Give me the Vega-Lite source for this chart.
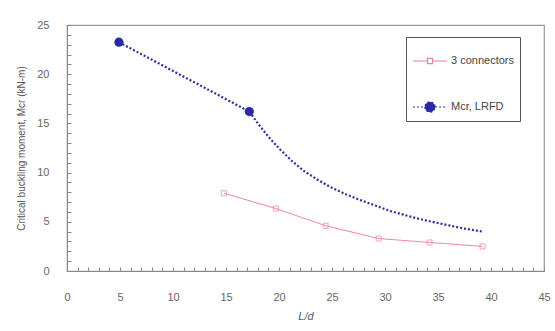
{
  "$schema": "https://vega.github.io/schema/vega-lite/v6.json",
  "autosize": {"type": "none"},
  "width": 477,
  "height": 246,
  "padding": {"left": 67, "top": 25, "right": 11, "bottom": 60},
  "background": "white",
  "config": {
    "view": {"stroke": "#999", "strokeWidth": 1.2},
    "font": "Liberation Sans",
    "axis": {
      "domainColor": "#888",
      "tickColor": "#888",
      "labelColor": "#666",
      "labelFontSize": 11,
      "titleColor": "#555",
      "titleFontWeight": "normal",
      "grid": false
    }
  },
  "data": {
    "values": [
      {"series": "3 connectors", "x": 14.8, "y": 7.9, "marker": true},
      {"series": "3 connectors", "x": 19.7, "y": 6.35, "marker": true},
      {"series": "3 connectors", "x": 24.4, "y": 4.6, "marker": true},
      {"series": "3 connectors", "x": 29.4, "y": 3.3, "marker": true},
      {"series": "3 connectors", "x": 34.2, "y": 2.9, "marker": true},
      {"series": "3 connectors", "x": 39.2, "y": 2.5, "marker": true},
      {"series": "Mcr, LRFD", "x": 4.9, "y": 23.25, "marker": true},
      {"series": "Mcr, LRFD", "x": 17.2, "y": 16.2, "marker": true},
      {"series": "Mcr, LRFD", "x": 18.0, "y": 15.0, "marker": false},
      {"series": "Mcr, LRFD", "x": 19.0, "y": 13.65, "marker": false},
      {"series": "Mcr, LRFD", "x": 20.1, "y": 12.35, "marker": false},
      {"series": "Mcr, LRFD", "x": 21.2, "y": 11.2, "marker": false},
      {"series": "Mcr, LRFD", "x": 22.3, "y": 10.2, "marker": false},
      {"series": "Mcr, LRFD", "x": 23.6, "y": 9.3, "marker": false},
      {"series": "Mcr, LRFD", "x": 24.9, "y": 8.5, "marker": false},
      {"series": "Mcr, LRFD", "x": 26.3, "y": 7.8, "marker": false},
      {"series": "Mcr, LRFD", "x": 27.7, "y": 7.2, "marker": false},
      {"series": "Mcr, LRFD", "x": 30.5, "y": 6.1, "marker": false},
      {"series": "Mcr, LRFD", "x": 33.0, "y": 5.35, "marker": false},
      {"series": "Mcr, LRFD", "x": 35.3, "y": 4.8, "marker": false},
      {"series": "Mcr, LRFD", "x": 37.3, "y": 4.35, "marker": false},
      {"series": "Mcr, LRFD", "x": 39.2, "y": 4.0, "marker": false}
    ]
  },
  "encoding": {
    "x": {
      "field": "x", "type": "quantitative",
      "scale": {"domain": [0, 45], "nice": false},
      "axis": {
        "title": "L/d",
        "titleFontStyle": "italic",
        "titleFontSize": 11,
        "titlePadding": 8,
        "values": [0,1,2,3,4,5,6,7,8,9,10,11,12,13,14,15,16,17,18,19,20,21,22,23,24,25,26,27,28,29,30,31,32,33,34,35,36,37,38,39,40,41,42,43,44,45],
        "labelExpr": "datum.value % 5 === 0 ? datum.label : ''",
        "tickSize": -4,
        "labelPadding": 24,
        "labelFlush": false
      }
    },
    "y": {
      "field": "y", "type": "quantitative",
      "scale": {"domain": [0, 25], "nice": false},
      "axis": {
        "title": "Critical buckling moment, Mcr (kN-m)",
        "titleFontSize": 10,
        "titlePadding": 10,
        "values": [0,1,2,3,4,5,6,7,8,9,10,11,12,13,14,15,16,17,18,19,20,21,22,23,24,25],
        "labelExpr": "datum.value % 5 === 0 ? datum.label : ''",
        "tickSize": -4,
        "labelPadding": 22,
        "labelFlush": false
      }
    }
  },
  "layer": [
    {
      "transform": [{"filter": "datum.series === 'Mcr, LRFD'"}],
      "mark": {"type": "line", "color": "#2e2e9e", "strokeWidth": 2.2, "strokeDash": [2, 2], "interpolate": "linear"}
    },
    {
      "transform": [{"filter": "datum.series === '3 connectors'"}],
      "mark": {"type": "line", "color": "#f08a9c", "strokeWidth": 1}
    },
    {
      "transform": [{"filter": "datum.series === '3 connectors'"}],
      "mark": {"type": "point", "shape": "square", "filled": false, "color": "#ec7f92", "size": 25, "strokeWidth": 1}
    },
    {
      "transform": [{"filter": "datum.series === 'Mcr, LRFD' && datum.marker"}],
      "mark": {"type": "point", "shape": "circle", "filled": true, "color": "#2a2aa8", "opacity": 1, "size": 85}
    },
    {
      "transform": [{"filter": "false"}],
      "mark": {"type": "point", "filled": false, "opacity": 1},
      "encoding": {
        "color": {
          "field": "series", "type": "nominal",
          "scale": {"domain": ["3 connectors", "Mcr, LRFD"], "range": ["#ec7f92", "#2e2e9e"]},
          "legend": {
            "title": null,
            "orient": "none",
            "legendX": 339,
            "legendY": 12,
            "padding": 6,
            "rowPadding": 23,
            "strokeColor": "#555",
            "fillColor": "white",
            "symbolSize": 1156,
            "symbolStrokeWidth": 1.2,
            "labelFontSize": 11,
            "labelColor": "#444",
            "labelOffset": 3
          }
        },
        "shape": {
          "field": "series", "type": "nominal",
          "scale": {"domain": ["3 connectors", "Mcr, LRFD"], "range": [
            "M -1 0 L -0.15 0 M -0.15 -0.15 L 0.15 -0.15 L 0.15 0.15 L -0.15 0.15 Z M 0.15 0 L 1 0",
            "M -1 0 L -0.3 0 M -0.3 0 A 0.3 0.3 0 1 0 0.3 0 A 0.3 0.3 0 1 0 -0.3 0 M 0.3 0 L 1 0"
          ]}
        },
        "fill": {
          "field": "series", "type": "nominal",
          "scale": {"domain": ["3 connectors", "Mcr, LRFD"], "range": ["white", "#2a2aa8"]}
        },
        "strokeDash": {
          "field": "series", "type": "nominal",
          "scale": {"domain": ["3 connectors", "Mcr, LRFD"], "range": [[1, 0], [2, 2]]}
        }
      }
    }
  ]
}
